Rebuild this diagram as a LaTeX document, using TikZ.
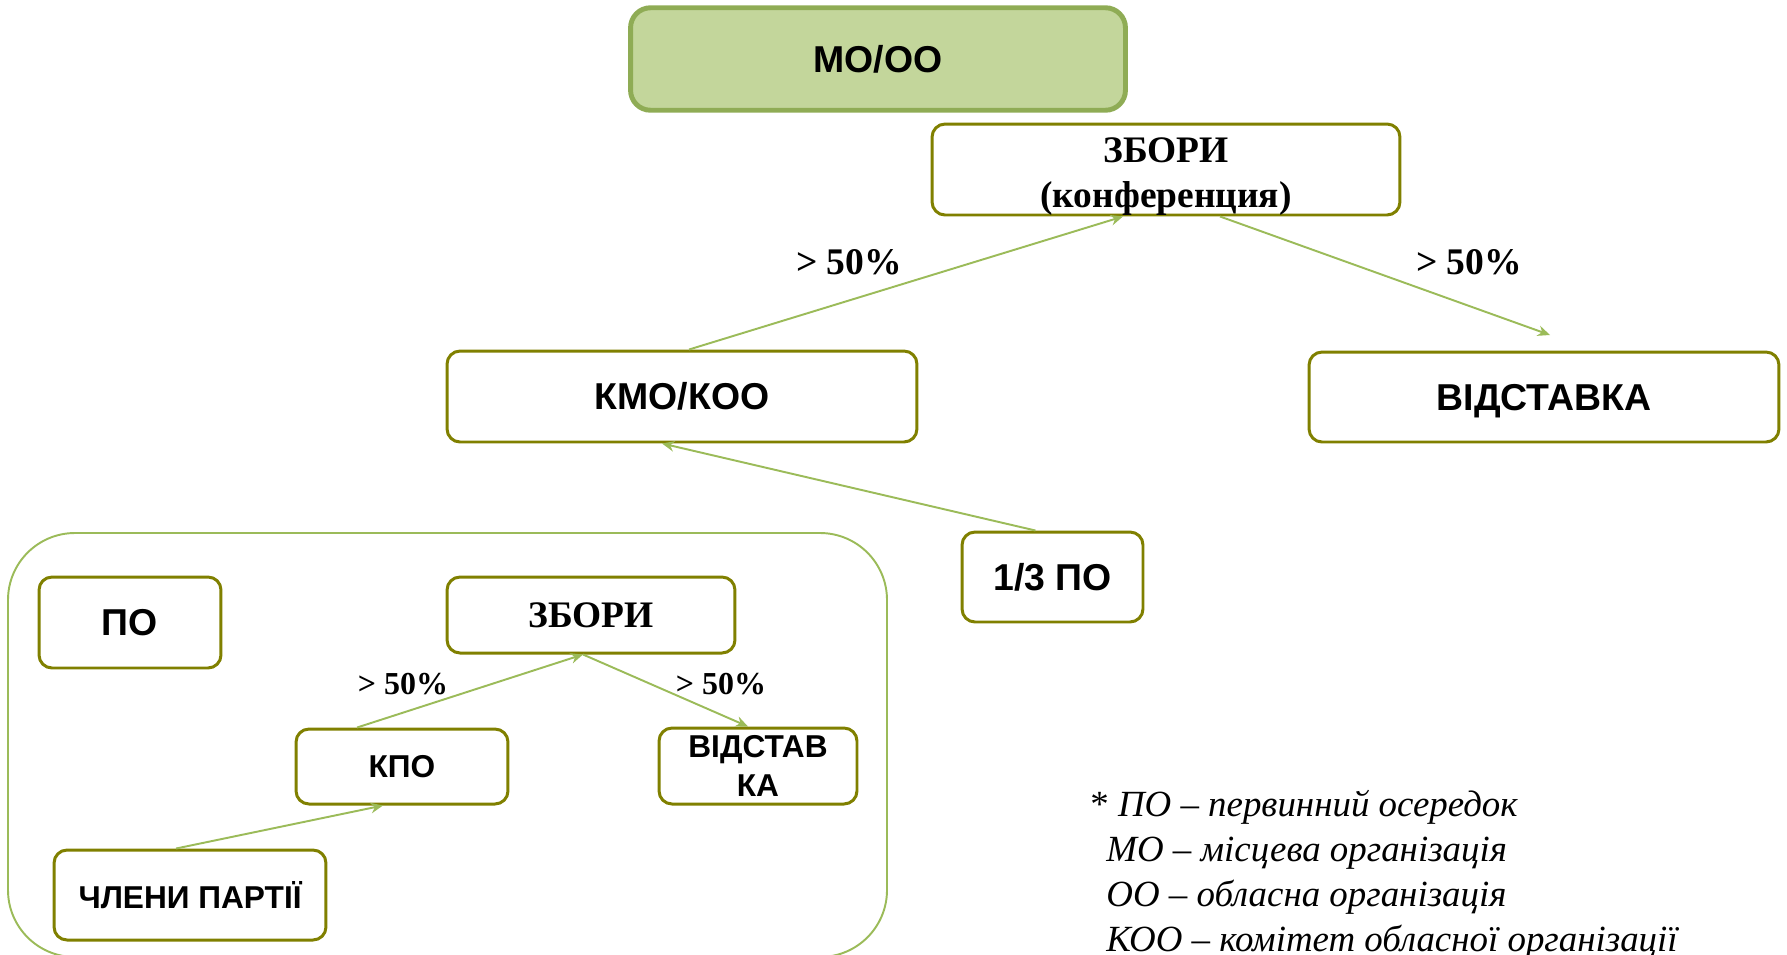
\documentclass[tikz,border=0pt]{standalone}
\usepackage{fontspec}
\setmainfont{Liberation Serif}
\setsansfont{Liberation Sans}
\usepackage{tikz}
\usetikzlibrary{positioning, arrows.meta}
\definecolor{boxolive}{RGB}{128,128,0}
\definecolor{linegreen}{RGB}{155,187,89}
\definecolor{topfill}{RGB}{195,214,155}
\definecolor{topline}{RGB}{143,172,85}
\tikzset{
    >={Stealth[length=7pt, width=6pt]}, % small arrow heads
    orgbox/.style={draw=boxolive, line width=1.7pt, rounded corners=0.26cm, fill=white, align=center, inner sep=2pt}, % the olive boxes
    bigtext/.style={font=\sffamily\bfseries\fontsize{21.3}{25}\selectfont},
    smalltext/.style={font=\sffamily\bfseries\fontsize{18}{22}\selectfont},
    vote/.style={->, draw=linegreen, line width=1.1pt}, % green connectors
    pct/.style={font=\bfseries\fontsize{21.4}{24}\selectfont},
    smallpct/.style={font=\bfseries\fontsize{18.2}{21}\selectfont},
    legend/.style={anchor=base west, inner sep=0pt, font=\itshape\fontsize{21}{25}\selectfont},
}

\begin{document}
\begin{tikzpicture}[x=0.02cm, y=-0.02cm]
    \useasboundingbox (0,0) rectangle (1787,954);
    % group of the primary cell
    \draw[draw=linegreen, line width=1.1pt, rounded corners=1.34cm] (8,533) rectangle (887,957);

    \node[draw=topline, line width=2.8pt, fill=topfill, rounded corners=0.4cm, minimum width=9.9cm, minimum height=2.05cm, bigtext] (mooo) at (878,59) {MO/OO};
    \node[orgbox, minimum width=9.36cm, minimum height=1.82cm] (zbory) at (1166,169.5) {};
    \node[font=\bfseries\fontsize{21.3}{25.6}\selectfont, align=center, inner sep=0pt] (zborytxt) at (1166,177) {ЗБОРИ\\(конференция)};
    \node[orgbox, minimum width=9.4cm, minimum height=1.82cm, bigtext] (kmo) at (682,396.5) {КМО/КОО};
    \node[orgbox, minimum width=9.4cm, minimum height=1.8cm, bigtext, text depth=0pt] (vidst) at (1544,397) {ВІДСТАВКА};
    \node[orgbox, minimum width=3.62cm, minimum height=1.8cm, bigtext] (tretyna) at (1052.5,577) {1/3 ПО};

    \node[orgbox, minimum width=3.64cm, minimum height=1.82cm, bigtext] (po) at (130,622.5) {ПО};
    \node[orgbox, minimum width=5.76cm, minimum height=1.52cm, font=\bfseries\fontsize{21.3}{25}\selectfont] (zbory2) at (591,615) {ЗБОРИ};
    \node[orgbox, minimum width=4.24cm, minimum height=1.5cm, smalltext] (kpo) at (402,766.5) {КПО};
    \node[orgbox, minimum width=3.96cm, minimum height=1.52cm, smalltext, inner sep=0pt] (vidst2) at (758,766) {ВІДСТАВ\\КА};
    \node[orgbox, minimum width=5.44cm, minimum height=1.8cm, smalltext] (chleny) at (190,895) {ЧЛЕНИ ПАРТІЇ};

    \coordinate (vtip) at (1550,335);
    \draw[vote] ([xshift=0.14cm]kmo.north) -- ([xshift=-0.86cm]zbory.south);
    \draw[vote] ([xshift=1.08cm]zbory.south) -- (vtip);
    \draw[vote] ([xshift=-0.34cm]tretyna.north) -- ([xshift=-0.4cm]kmo.south);
    \draw[vote] ([xshift=-0.9cm]kpo.north) -- ([xshift=-0.16cm]zbory2.south);
    \draw[vote] ([xshift=-0.16cm]zbory2.south) -- ([xshift=-0.2cm]vidst2.north);
    \draw[vote] ([xshift=-0.28cm]chleny.north) -- ([xshift=-0.38cm]kpo.south);

    \node[pct] (pleft) at (849,262) {> 50\%};
    \node[pct] (pright) at (1469,262) {> 50\%};
    \node[smallpct] (pkpo) at (403,684) {> 50\%};
    \node[smallpct] (pvid) at (721,684) {> 50\%};

    % legend
    \node[legend] (leg1) at (1090,816) {\upshape*\itshape\ ПО – первинний осередок};
    \node[legend] (leg2) at (1106,861) {МО – місцева організація};
    \node[legend] (leg3) at (1106,906) {ОО – обласна організація};
    \node[legend] (leg4) at (1106,951) {КОО – комітет обласної організації};
\end{tikzpicture}
\end{document}
